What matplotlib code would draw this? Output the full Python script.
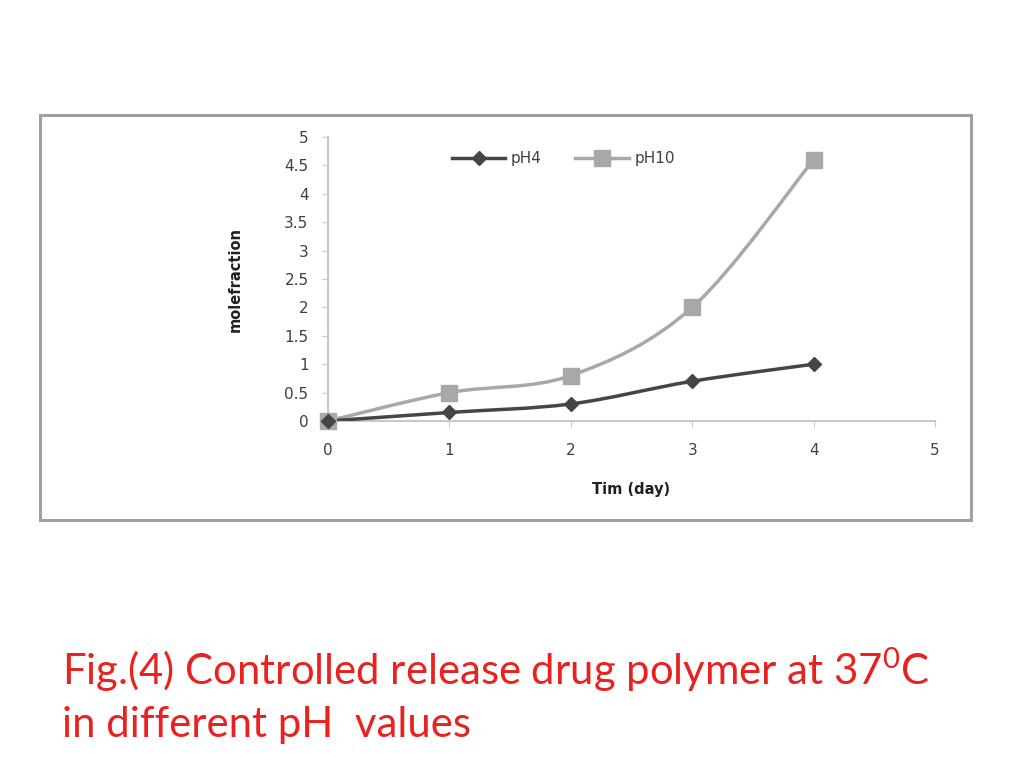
import matplotlib
matplotlib.use("Agg")
import matplotlib.pyplot as plt
from matplotlib.path import Path
from matplotlib.patches import PathPatch, Rectangle
import numpy as np

days = [0, 1, 2, 3, 4]
ph4 = [0, 0.15, 0.3, 0.7, 1.0]
ph10 = [0, 0.5, 0.8, 2.0, 4.6]
xticks = [0, 1, 2, 3, 4, 5]
yticks = [0, 0.5, 1, 1.5, 2, 2.5, 3, 3.5, 4, 4.5, 5]
ytick_labels = ["0", "0.5", "1", "1.5", "2", "2.5", "3", "3.5", "4", "4.5", "5"]

fig = plt.figure(figsize=(10.24, 7.68), dpi=100)
fig.patch.set_facecolor("white")

# outer chart frame
fig.patches.append(Rectangle((40/1024, 1-520/768), (971-40)/1024, (520-115)/768,
                             transform=fig.transFigure, fill=False,
                             edgecolor="#a0a0a0", lw=2.2))

ax = fig.add_axes([328/1024, 1-421/768, (935-328)/1024, (421-137)/768])
ax.set_xlim(0, 5)
ax.set_ylim(0, 5)
for s in ["top", "right"]:
    ax.spines[s].set_visible(False)
for s in ["left", "bottom"]:
    ax.spines[s].set_color("#c8c8c8")
    ax.spines[s].set_linewidth(1.5)
ax.set_xticks(xticks)
ax.set_yticks(yticks)
ax.set_yticklabels(ytick_labels)
ax.tick_params(direction="out", length=4, color="#c8c8c8", labelcolor="#404040",
               labelsize=11)
ax.tick_params(axis="y", pad=10)
ax.tick_params(axis="x", pad=12)


def smooth_path(x, y):
    x = np.asarray(x, float)
    y = np.asarray(y, float)
    verts = [(x[0], y[0])]
    codes = [Path.MOVETO]
    n = len(x)
    for i in range(n - 1):
        p0 = (x[max(i-1, 0)], y[max(i-1, 0)])
        p1 = (x[i], y[i])
        p2 = (x[i+1], y[i+1])
        p3 = (x[min(i+2, n-1)], y[min(i+2, n-1)])
        c1 = (p1[0] + (p2[0]-p0[0])/6, p1[1] + (p2[1]-p0[1])/6)
        c2 = (p2[0] - (p3[0]-p1[0])/6, p2[1] - (p3[1]-p1[1])/6)
        verts += [c1, c2, p2]
        codes += [Path.CURVE4]*3
    return Path(verts, codes)

c4 = "#454545"
c10 = "#a8a8a8"
ax.add_patch(PathPatch(smooth_path(days, ph10), fill=False, edgecolor=c10, lw=2.5, zorder=3))
ax.add_patch(PathPatch(smooth_path(days, ph4), fill=False, edgecolor=c4, lw=2.5, zorder=4))
ax.plot(days, ph10, ls="none", marker="s", ms=12, color=c10, zorder=5, clip_on=False)
ax.plot(days, ph4, ls="none", marker="D", ms=7, color=c4, zorder=6, clip_on=False)

h4, = ax.plot([], [], color=c4, lw=2.5, marker="D", ms=7)
h10, = ax.plot([], [], color=c10, lw=2.5, marker="s", ms=12)
fig.legend([h4, h10], ["pH4", "pH10"], loc="center left",
           bbox_to_anchor=(452/1024, 1-159/768), bbox_transform=fig.transFigure,
           ncol=2, frameon=False, fontsize=11, labelcolor="#404040",
           handlelength=3.5, columnspacing=2.2, handletextpad=0.35,
           borderpad=0, borderaxespad=0)

ax.set_xlabel("Tim (day)", fontsize=10.5, fontweight="bold", color="#202020", labelpad=17)
ax.set_ylabel("molefraction", fontsize=10.5, fontweight="bold", color="#202020", labelpad=30)

cap_font = "Lato"
fig.text(62/1024, 1-685/768, "Fig.(4) Controlled release drug polymer at 37$^{\\mathregular{0}}$C",
         color="#e8221e", fontsize=30.2, family=cap_font, ha="left", va="baseline")
fig.text(62/1024, 1-737/768, "in different pH  values",
         color="#e8221e", fontsize=30.2, family=cap_font, ha="left", va="baseline")

fig.savefig("out.png", dpi=100)
